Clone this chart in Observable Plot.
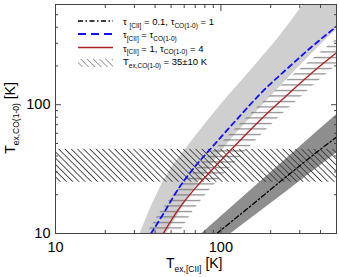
<!DOCTYPE html>
<html><head><meta charset="utf-8">
<script src="https://cdn.jsdelivr.net/npm/d3@7"></script>
<script src="https://cdn.jsdelivr.net/npm/@observablehq/plot@0.6"></script>
<style>
body{margin:0;background:#fff;}
#chart{position:relative;width:339px;height:277px;}
#chart svg{font-family:"Liberation Sans",Arial,sans-serif;}
</style>
</head><body><div id="chart"></div>
<script>
// ---- axes ----
const xDomain = [10, 500];
const yDomain = [10, 600];
const xMajor = [10, 100];
const xMinor = [20, 30, 40, 50, 60, 70, 80, 90, 200, 300, 400];
const yMajor = [10, 100];
const yMinor = [20, 30, 40, 50, 60, 70, 80, 90, 200, 300, 400, 500];

// ---- curves (T_ex,[CII], T_ex,CO) ----
// tau_[CII] = 0.1, tau_CO = 1 (black dash-dot)
const blackX = [94.6, 150, 250, 400, 500];
const blackY = [10, 16.2, 27.8, 45, 56];
// tau_[CII] = tau_CO (blue dashed)
const blueX = [37.8, 45, 55, 70, 90, 130, 180, 250, 350, 500];
const blueY = [10, 14.3, 22, 33.3, 48, 81.5, 128, 189, 278, 405];
// tau_[CII] = 1, tau_CO = 4 (red)
const redX = [44.8, 55, 70, 90, 130, 180, 250, 350, 500];
const redY = [10, 15.2, 22.5, 32, 52.6, 80, 118, 174, 253];

// ---- bands ----
// light grey band around the blue curve (edges given per T_CO)
const lightY  = [8, 10, 15, 20, 30, 50, 100, 200, 400, 650];
const lightX1 = [30, 32.5, 37, 41, 48.5, 65, 100, 160, 250, 330];
const lightX2 = [42.5, 47, 57, 65, 82, 110, 180, 300, 520, 800];
// horizontally hatched band around the red curve (edges given per T_CO)
const hatchY  = [7, 10, 15.2, 22.5, 32, 52.6, 80, 118, 174, 253, 400];
const hatchX1 = [30.2, 35.8, 44, 56, 72, 104, 144, 200, 280, 400, 616];
const hatchX2 = [47.3, 56, 68.8, 87.5, 112.5, 162.5, 225, 312.5, 437.5, 625, 962];
// dark grey band around the black curve (edges given per T_CII)
const darkX  = [60, 76.9, 100, 150, 250, 400, 520];
const darkY1 = [5.2, 6.6, 8.7, 12.9, 21.2, 33.7, 43.6];
const darkY2 = [7.5, 10, 13.5, 21.4, 38.2, 65, 87.5];
// T_ex,CO(1-0) = 35 ± 10 K
const tcoCenter = [35];
const tcoErr = [10];

// ---- texts ----
const legendRows = [
  [["τ", 0], [" ", 0], ["[CII]", 1], [" = 0.1, τ", 0], ["CO(1-0)", 1], [" = 1", 0]],
  [["τ", 0], ["[CII]", 1], [" = τ", 0], ["CO(1-0)", 1]],
  [["τ", 0], ["[CII]", 1], [" = 1, τ", 0], ["CO(1-0)", 1], [" = 4", 0]],
  [["T", 0], ["ex,CO(1-0)", 1], [" = 35±10 K", 0]]
];
const xLabel = [["T", 0], ["ex,[CII]", 1], [" [K]", 0]];
const yLabel = [["T", 0], ["ex,CO(1-0)", 1], [" [K]", 0]];

const pts = (xs, ys) => xs.map((x, i) => ({x, y: ys[i]}));
const blue = pts(blueX, blueY), red = pts(redX, redY), black = pts(blackX, blackY);
const light = lightY.map((y, i) => ({y, x1: lightX1[i], x2: lightX2[i]}));
const hatch = hatchY.map((y, i) => ({y, x1: hatchX1[i], x2: hatchX2[i]}));
const dark = darkX.map((x, i) => ({x, y1: darkY1[i], y2: darkY2[i]}));
const tcoBand = tcoCenter.map((c, i) => ({y1: c - tcoErr[i], y2: c + tcoErr[i]}));

const FONT = '"Liberation Sans",Arial,sans-serif';

function defs() {
  const d = d3.create("svg:defs");
  const ph = d.append("pattern").attr("id", "hatchH").attr("patternUnits", "userSpaceOnUse")
    .attr("width", 8).attr("height", 5.5);
  ph.append("line").attr("x1", 0).attr("x2", 8).attr("y1", 2.5).attr("y2", 2.5)
    .attr("stroke", "#6e6e6e").attr("stroke-width", 1);
  const pd = d.append("pattern").attr("id", "hatchD").attr("patternUnits", "userSpaceOnUse")
    .attr("width", 4.4).attr("height", 4.4).attr("patternTransform", "rotate(-45)");
  pd.append("line").attr("x1", 2.2).attr("x2", 2.2).attr("y1", -1).attr("y2", 5.4)
    .attr("stroke", "#3a3a3a").attr("stroke-width", 0.85);
  return d.node();
}

function rich(g, x, y, parts, size, subSize, anchor = "start", rotate = 0) {
  const t = g.append("text").attr("x", x).attr("y", y).attr("text-anchor", anchor)
    .attr("font-family", FONT).attr("fill", "#000").style("white-space", "pre");
  if (rotate) t.attr("transform", `rotate(${rotate},${x},${y})`);
  const shift = size * 0.28;
  let down = false;
  for (const [txt, sub] of parts) {
    const s = t.append("tspan").text(txt).attr("font-size", sub ? subSize : size);
    if (sub && !down) { s.attr("dy", shift); down = true; }
    else if (!sub && down) { s.attr("dy", -shift); down = false; }
  }
}

function annotations() {
  const g = d3.create("svg:g");
  const lx0 = 78, lx1 = 113, tx = 123;
  const rowsY = [21, 34, 47.5];
  g.append("line").attr("x1", lx0).attr("x2", lx1).attr("y1", rowsY[0]).attr("y2", rowsY[0])
    .attr("stroke", "#000").attr("stroke-width", 1.3).attr("stroke-dasharray", "5,2.5,1.5,2.5");
  g.append("line").attr("x1", lx0).attr("x2", lx1).attr("y1", rowsY[1]).attr("y2", rowsY[1])
    .attr("stroke", "#1010ff").attr("stroke-width", 1.8).attr("stroke-dasharray", "8,5");
  g.append("line").attr("x1", lx0).attr("x2", lx1).attr("y1", rowsY[2]).attr("y2", rowsY[2])
    .attr("stroke", "#b22222").attr("stroke-width", 1.6);
  g.append("rect").attr("x", lx0).attr("y", 59).attr("width", lx1 - lx0).attr("height", 8)
    .attr("fill", "url(#hatchD)").attr("opacity", 0.55);
  const ty = [25, 38, 51.5, 65];
  legendRows.forEach((r, i) => rich(g, tx, ty[i], r, 9.5, 6.5));
  rich(g, 166, 268, xLabel, 14, 8.5);
  rich(g, 15, 118, yLabel, 14, 8.5, "middle", -90);
  return g.node();
}

const tickStroke = "#444";
const plot = Plot.plot({
  width: 339, height: 277,
  marginLeft: 55, marginRight: 3, marginTop: 4, marginBottom: 44,
  x: {type: "log", domain: xDomain},
  y: {type: "log", domain: yDomain},
  marks: [
    defs,
    Plot.areaX(light, {y: "y", x1: "x1", x2: "x2", fill: "#cfcfcf", curve: "monotone-y", clip: true}),
    Plot.areaY(dark, {x: "x", y1: "y1", y2: "y2", fill: "#8e8e8e", clip: true}),
    Plot.areaX(hatch, {y: "y", x1: "x1", x2: "x2", fill: "url(#hatchH)", curve: "monotone-y", clip: true}),
    Plot.rect(tcoBand, {x1: () => xDomain[0], x2: () => xDomain[1], y1: "y1", y2: "y2", fill: "url(#hatchD)"}),
    Plot.line(blue, {x: "x", y: "y", stroke: "#1010ff", strokeWidth: 1.8, strokeDasharray: "5,4", curve: "monotone-x", clip: true}),
    Plot.line(red, {x: "x", y: "y", stroke: "#b22222", strokeWidth: 1.4, curve: "monotone-x", clip: true}),
    Plot.line(black, {x: "x", y: "y", stroke: "#000", strokeWidth: 1.3, strokeDasharray: "5,2.5,1.5,2.5", curve: "monotone-x", clip: true}),
    Plot.frame({stroke: tickStroke}),
    // inward ticks on all four sides
    Plot.axisX(xMajor, {anchor: "bottom", tickSize: 6, dy: -6, tickFormat: () => "", label: null, stroke: tickStroke}),
    Plot.axisX(xMinor, {anchor: "bottom", tickSize: 3, dy: -3, tickFormat: () => "", label: null, stroke: tickStroke}),
    Plot.axisX(xMajor, {anchor: "top", tickSize: 6, dy: 6, tickFormat: () => "", label: null, stroke: tickStroke}),
    Plot.axisX(xMinor, {anchor: "top", tickSize: 3, dy: 3, tickFormat: () => "", label: null, stroke: tickStroke}),
    Plot.axisY(yMajor, {anchor: "left", tickSize: 6, dx: 6, tickFormat: () => "", label: null, stroke: tickStroke}),
    Plot.axisY(yMinor, {anchor: "left", tickSize: 3, dx: 3, tickFormat: () => "", label: null, stroke: tickStroke}),
    Plot.axisY(yMajor, {anchor: "right", tickSize: 6, dx: -6, tickFormat: () => "", label: null, stroke: tickStroke}),
    Plot.axisY(yMinor, {anchor: "right", tickSize: 3, dx: -3, tickFormat: () => "", label: null, stroke: tickStroke}),
    // tick labels
    Plot.axisX(xMajor, {anchor: "bottom", tickSize: 0, tickPadding: 8, fontSize: 14.5, label: null, tickFormat: d => String(d), fill: "#000"}),
    Plot.axisY(yMajor, {anchor: "left", tickSize: 0, tickPadding: 5, fontSize: 14.5, label: null, tickFormat: d => String(d), fill: "#000"}),
    annotations
  ]
});
document.getElementById("chart").appendChild(plot);
</script>
</body></html>
